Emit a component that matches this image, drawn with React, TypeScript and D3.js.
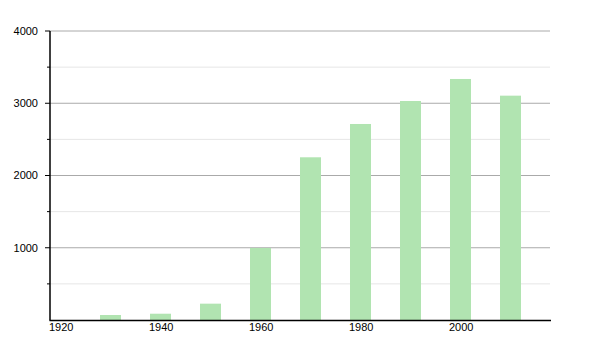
import React from "react";
import * as d3 from "d3";

const years = [1930, 1940, 1950, 1960, 1970, 1980, 1990, 2000, 2010];
const population = [69, 87, 226, 997, 2252, 2713, 3031, 3336, 3105];
const xTickYears = [1920, 1940, 1960, 1980, 2000];
const yMajorTicks = [1000, 2000, 3000, 4000];
const yMinorTicks = [500, 1500, 2500, 3500];

export default function App() {
  const width = 600;
  const height = 350;
  const x = d3.scaleLinear().domain([1920, 2020]).range([50, 550]);
  const y = d3.scaleLinear().domain([0, 4000]).range([320, 31]);
  const barW = 21;
  const font = "'Liberation Sans', Arial, sans-serif";

  return (
    <svg
      width={width}
      height={height}
      style={{ position: "absolute", left: 0, top: 0, background: "#fff" }}
    >
      {yMinorTicks.map((t) => (
        <line key={"mg" + t} x1={50} x2={550} y1={y(t)} y2={y(t)} stroke="#e6e6e6" strokeWidth={1} />
      ))}
      {yMajorTicks.map((t) => (
        <line key={"Mg" + t} x1={50} x2={550} y1={y(t)} y2={y(t)} stroke="#aaaaaa" strokeWidth={1} />
      ))}
      {years.map((yr, i) => (
        <rect
          key={yr}
          x={x(yr)}
          y={y(population[i])}
          width={barW}
          height={y(0) - y(population[i])}
          fill="#b1e4b1"
        />
      ))}
      <line x1={50} x2={50} y1={31} y2={320.5} stroke="#000" strokeWidth={1.5} />
      <line x1={49.5} x2={551} y1={320.5} y2={320.5} stroke="#000" strokeWidth={1.5} />
      {yMajorTicks.map((t) => (
        <g key={"yt" + t}>
          <line x1={45} x2={50} y1={y(t)} y2={y(t)} stroke="#000" strokeWidth={1} />
          <text
            x={38}
            y={y(t)}
            dy="0.35em"
            textAnchor="end"
            fontFamily={font}
            fontSize={11}
            fill="#000"
          >
            {t}
          </text>
        </g>
      ))}
      {yMinorTicks.map((t) => (
        <line key={"ymt" + t} x1={47} x2={50} y1={y(t)} y2={y(t)} stroke="#000" strokeWidth={1} />
      ))}
      {xTickYears.map((yr) => (
        <text
          key={"xt" + yr}
          x={x(yr) - 1}
          y={331}
          textAnchor="start"
          fontFamily={font}
          fontSize={11}
          fill="#000"
        >
          {yr}
        </text>
      ))}
    </svg>
  );
}
